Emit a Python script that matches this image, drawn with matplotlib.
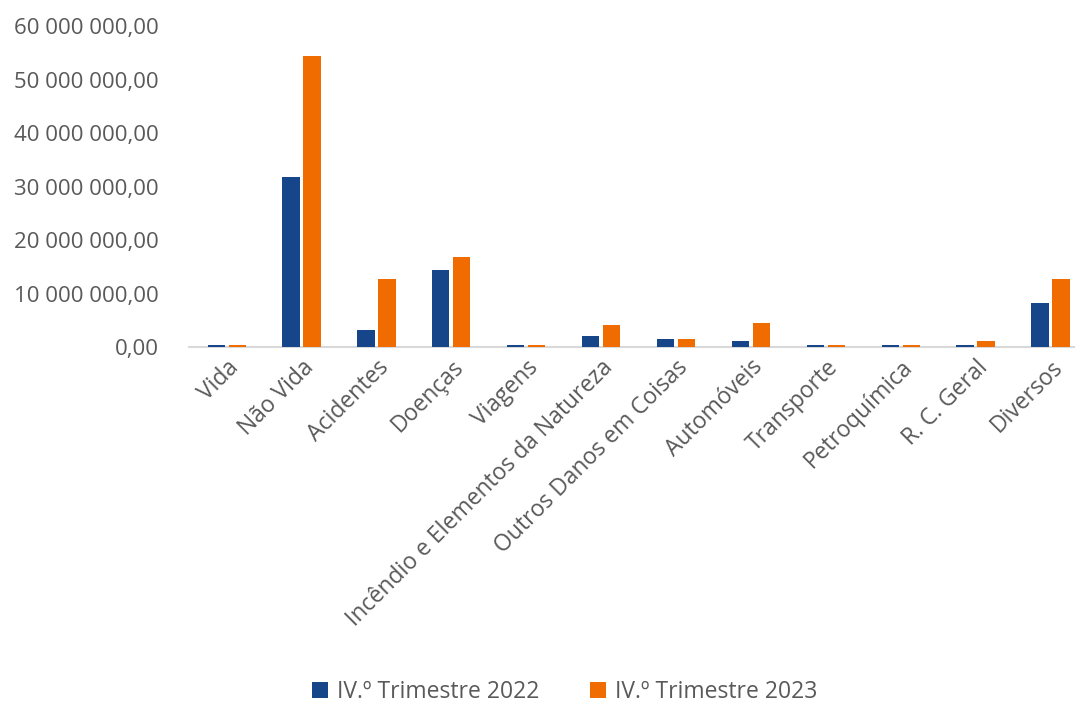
import numpy as np
import matplotlib
matplotlib.use("Agg")
import matplotlib.pyplot as plt
from matplotlib.ticker import FuncFormatter

# --- data ---
categories = ["Vida", "Não Vida", "Acidentes", "Doenças", "Viagens",
              "Incêndio e Elementos da Natureza", "Outros Danos em Coisas",
              "Automóveis", "Transporte", "Petroquímica", "R. C. Geral", "Diversos"]
q4_2022 = [300000, 31800000, 3200000, 14400000, 300000, 2050000,
           1600000, 1200000, 300000, 300000, 300000, 8200000]
q4_2023 = [300000, 54400000, 12700000, 16800000, 300000, 4100000,
           1600000, 4500000, 300000, 300000, 1100000, 12700000]
series_labels = ["IV.º Trimestre 2022", "IV.º Trimestre 2023"]

BLUE = "#174589"
ORANGE = "#F06C00"
TEXT = "#595959"

plt.rcParams.update({"font.family": ["Open Sans", "DejaVu Sans"]})

fig = plt.figure(figsize=(10.75, 7.04), dpi=100)
ax = fig.add_axes([0.176, 0.507, 0.836, 0.456])

x = np.arange(len(categories))
w = 0.23
ax.bar(x - 0.14, q4_2022, width=w, color=BLUE, label=series_labels[0], zorder=3)
ax.bar(x + 0.14, q4_2023, width=w, color=ORANGE, label=series_labels[1], zorder=3)

ax.set_xlim(-0.5, 11.5)
ax.set_ylim(0, 60000000)
ax.set_yticks(np.arange(0, 60000001, 10000000))


def fmt(v, pos):
    s = f"{v:,.2f}".replace(",", " ").replace(".", ",")
    return s


ax.yaxis.set_major_formatter(FuncFormatter(fmt))
ax.tick_params(axis="y", length=0, labelsize=16, colors=TEXT, pad=22)
ax.tick_params(axis="x", length=0, labelsize=16.5, colors=TEXT, pad=6)
ax.set_xticks(x)
ax.set_xticklabels(categories, rotation=45, ha="right", rotation_mode="anchor")

for s in ["top", "right", "left"]:
    ax.spines[s].set_visible(False)
ax.spines["bottom"].set_color("#d9d9d9")
ax.spines["bottom"].set_linewidth(1.5)
ax.spines["bottom"].set_zorder(1)

fig.legend(loc="lower center", bbox_to_anchor=(0.525, -0.03), ncol=2, frameon=False,
           fontsize=16.5, labelcolor=TEXT, handlelength=0.7, handleheight=0.7,
           handletextpad=0.4, columnspacing=2.2)

fig.savefig("out.png", dpi=100, facecolor="white")
